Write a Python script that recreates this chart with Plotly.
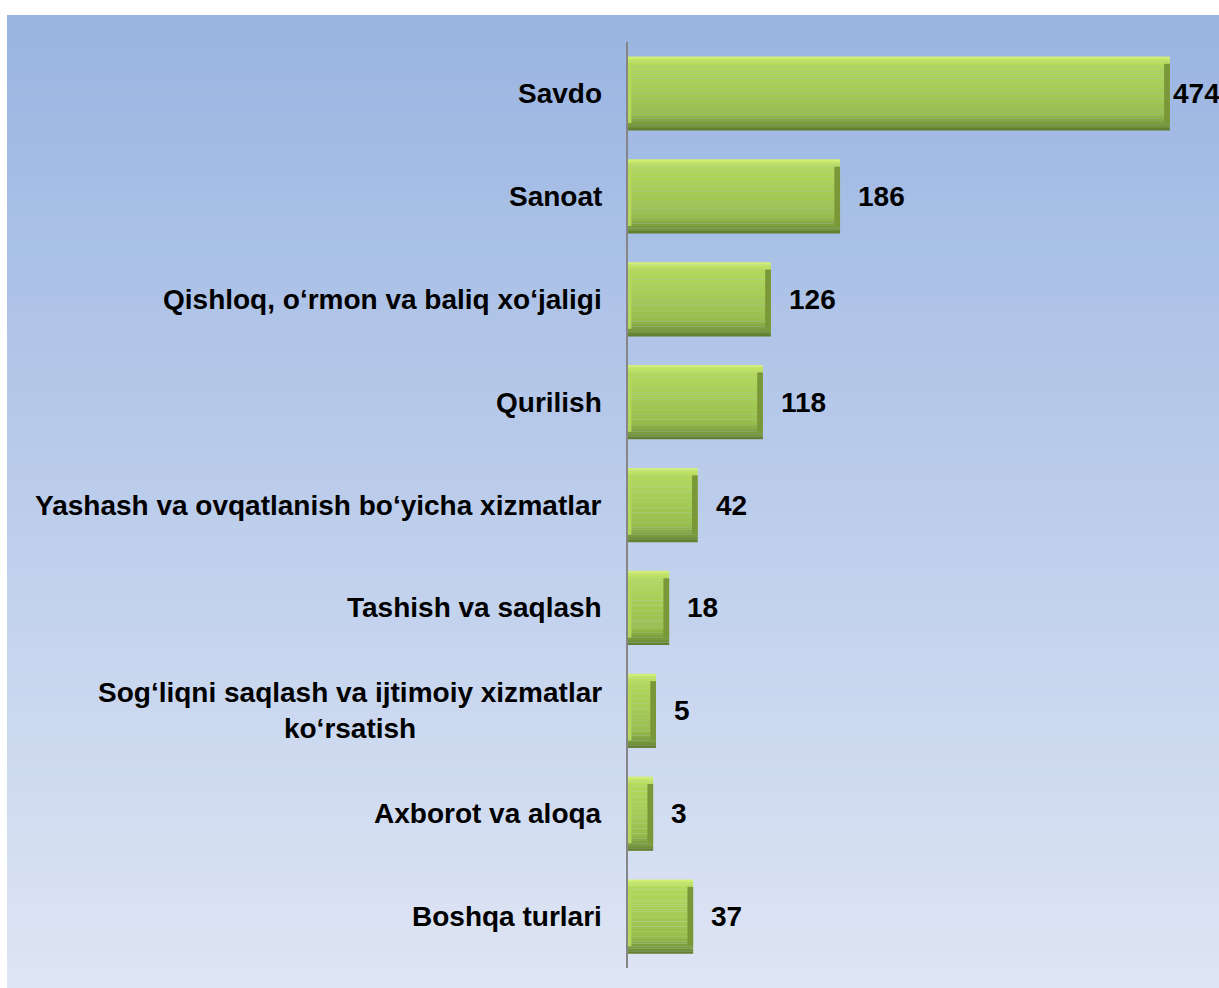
import plotly.graph_objects as go

# categories top to bottom
categories = [
    "Savdo",
    "Sanoat",
    "Qishloq, o‘rmon va baliq xo‘jaligi",
    "Qurilish",
    "Yashash va ovqatlanish bo‘yicha xizmatlar",
    "Tashish va saqlash",
    "Sog‘liqni saqlash va ijtimoiy xizmatlar<br>ko‘rsatish",
    "Axborot va aloqa",
    "Boshqa turlari",
]
# printed labels
values = [474, 186, 126, 118, 42, 18, 5, 3, 37]
# bar lengths as drawn in the picture (same scale as the 474 bar)
bar_len = [474, 185.5, 125, 118, 61, 36, 24.5, 22, 57]

W, H = 1219, 988
ML, MR, MT, MB = 628, 0, 42, 20
XMAX = 517
FONT = "Liberation Sans, Arial, sans-serif"

fig = go.Figure()


def hex2rgb(h):
    h = h.lstrip("#")
    return tuple(int(h[i:i + 2], 16) for i in (0, 2, 4))


def mix(c1, c2, t):
    a, b = hex2rgb(c1), hex2rgb(c2)
    return "rgb(%d,%d,%d)" % tuple(round(x + (y - x) * t) for x, y in zip(a, b))


# bevel profile across the bar thickness (0 = top edge, 1 = bottom edge)
stops = [
    (0.00, "#d8f47e"),
    (0.04, "#c4e668"),
    (0.12, "#b2d75b"),
    (0.45, "#a6cc55"),
    (0.78, "#98bd4c"),
    (0.86, "#86a743"),
    (0.95, "#71903a"),
    (1.00, "#5c772b"),
]


def profile(t):
    for (t0, c0), (t1, c1) in zip(stops, stops[1:]):
        if t <= t1:
            return mix(c0, c1, (t - t0) / (t1 - t0) if t1 > t0 else 0)
    return mix(stops[-1][1], stops[-1][1], 0)


bar_w = 0.72
n_str = 30
h = bar_w / n_str
for i in range(n_str):
    fig.add_trace(go.Bar(
        y=categories, x=bar_len, orientation="h",
        offset=-bar_w / 2 + i * h, width=h * 1.05,
        marker=dict(color=profile((i + 0.5) / n_str), line=dict(width=0)),
        hoverinfo="skip", showlegend=False,
    ))

# side bevels
edge_r, edge_l = 5, 3
fig.add_trace(go.Bar(
    y=categories, x=[edge_r] * len(bar_len), base=[l - edge_r for l in bar_len],
    orientation="h", offset=-bar_w / 2 + 0.1 * bar_w, width=0.8 * bar_w,
    marker=dict(color="#7a9838", line=dict(width=0)),
    hoverinfo="skip", showlegend=False,
))
fig.add_trace(go.Bar(
    y=categories, x=[edge_l] * len(bar_len),
    orientation="h", offset=-bar_w / 2 + 0.1 * bar_w, width=0.8 * bar_w,
    marker=dict(color="#b4d85e", line=dict(width=0)),
    hoverinfo="skip", showlegend=False,
))

# background gradient
top_c = "#9ab5e2"
bot_c = "#dee5f4"
pw = W - ML - MR
ph = H - MT - MB


def px_to_paper_y(p):
    return (H - MB - p) / ph


x0 = (7 - ML) / pw
y_top, y_bot = 15, H
n = 80
shapes = []
for i in range(n):
    p0 = y_top + (y_bot - y_top) * i / n
    p1 = y_top + (y_bot - y_top) * (i + 1) / n + 1
    shapes.append(dict(
        type="rect", xref="paper", yref="paper", layer="below",
        x0=x0, x1=1.0, y0=px_to_paper_y(p1), y1=px_to_paper_y(p0),
        fillcolor=mix(top_c, bot_c, i / (n - 1)), line=dict(width=0),
    ))

annotations = []
for cat in categories:
    annotations.append(dict(
        x=0, y=cat, xref="x", yref="y", xanchor="right", yanchor="middle",
        xshift=-24, align="center", showarrow=False,
        text="<b>%s</b>" % cat,
        font=dict(family=FONT, size=28, color="black"),
    ))
for cat, v, l in zip(categories, values, bar_len):
    shift = 16 if l < 0.9 * max(bar_len) else 1
    annotations.append(dict(
        x=l, y=cat, xref="x", yref="y", xanchor="left", yanchor="middle",
        xshift=shift, showarrow=False,
        text="<b>%d</b>" % v,
        font=dict(family=FONT, size=28, color="black"),
    ))

fig.update_layout(
    width=W, height=H,
    margin=dict(l=ML, r=MR, t=MT, b=MB),
    paper_bgcolor="white",
    plot_bgcolor="rgba(0,0,0,0)",
    barmode="overlay",
    shapes=shapes,
    annotations=annotations,
    showlegend=False,
    xaxis=dict(range=[0, XMAX], visible=False, fixedrange=True),
    yaxis=dict(
        autorange="reversed", showticklabels=False, ticks="",
        showgrid=False, zeroline=False, fixedrange=True,
        showline=True, linecolor="#868686", linewidth=2,
    ),
)

fig.write_html(
    "out.html",
    config={"displayModeBar": False},
    post_script="document.body.style.margin='0px';document.body.style.overflow='hidden';",
)
